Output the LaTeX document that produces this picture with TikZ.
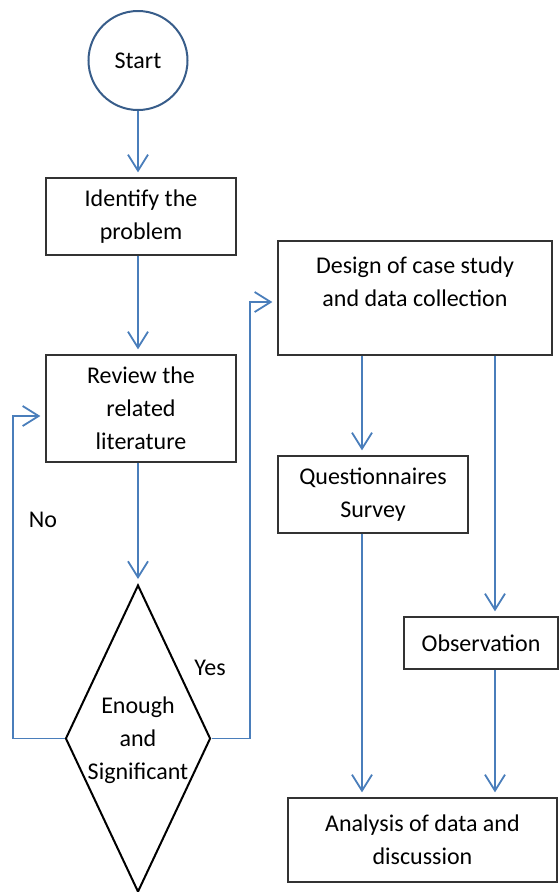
\documentclass[tikz,border=0pt]{standalone}
\usepackage{fontspec}
\setmainfont{Carlito}
\usetikzlibrary{shapes.geometric,arrows.meta}
\definecolor{lineblue}{RGB}{74,126,187}
\definecolor{ringblue}{RGB}{56,93,138}

\begin{document}
\begin{tikzpicture}[x=1pt,y=-1pt,inner sep=0pt,font=\fontsize{24}{33}\selectfont,
				box/.style={draw=black!80,line width=1.3pt,align=center},
				ring/.style={circle,draw=ringblue,line width=2pt,minimum size=99},
				decision/.style={diamond,draw=black,line width=2pt,minimum width=145,minimum height=307},
				link/.style={draw=lineblue,line width=1.8pt,shorten >=5pt,-{Straight Barb[length=16pt,width=20pt]}},]
				
				\useasboundingbox (0,0) rectangle (558,892);
				
				\node at (138,60.5) [ring] (start) {Start};
				\node at (141,216.5) [box,minimum width=190,minimum height=77] (idf) {Identify the\\problem};
				\node at (141,408.5) [box,minimum width=190,minimum height=107] (rev) {Review the\\related\\literature};
				\node at (138,738.5) [decision] (dec) {};
				\node at (138,740) [align=center] (dectxt) {Enough\\and\\Significant};
				\node at (415,298) [box,minimum width=274,minimum height=114] (des) {Design of case study\\and data collection\\ };
				\node at (373,494.5) [box,minimum width=190,minimum height=77] (que) {Questionnaires\\Survey};
				\node at (481,643) [box,minimum width=154,minimum height=52] (obs) {Observation};
				\node at (422.5,840) [box,minimum width=269,minimum height=84] (ana) {Analysis of data and\\discussion};
				
				\node at (43,520) (nolbl) {No};
				\node at (210,668) (yeslbl) {Yes};
				
				\coordinate (nobend) at (13,416);
				\coordinate (yesbend) at (250,302);
				\coordinate (qx) at (362,0);
				\coordinate (ox) at (495,0);
				
				\path (start.south) edge[link] (start |- idf.north);
				\path (start |- idf.south) edge[link] (start |- rev.north);
				\path (start |- rev.south) edge[link] (dec.north);
				
				\draw[link] (dec.west) -| (nobend) -- (rev.west |- nobend);
				\draw[link] (dec.east) -| (yesbend) -- (des.west |- yesbend);
				
				\path (des.south -| qx) edge[link] (que.north -| qx);
				\path (des.south -| ox) edge[link] (obs.north -| ox);
				\path (que.south -| qx) edge[link] (ana.north -| qx);
				\path (obs.south -| ox) edge[link] (ana.north -| ox);
				
			\end{tikzpicture}
\end{document}
